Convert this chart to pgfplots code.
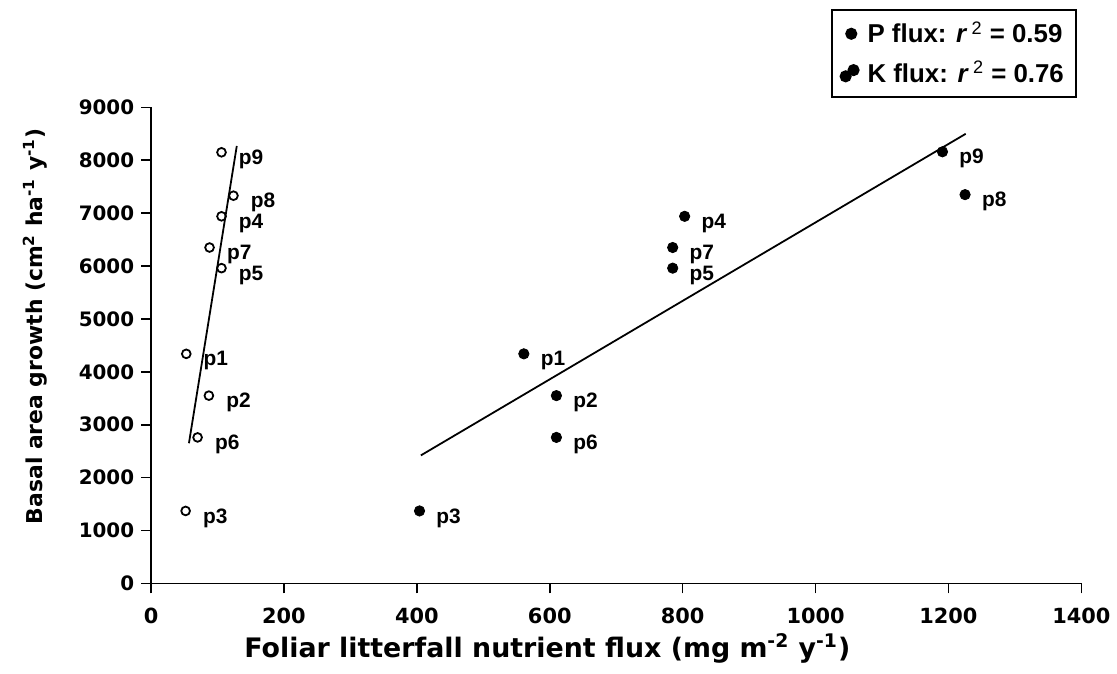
\documentclass[border=0pt]{standalone}
\usepackage{fontspec}
\setmainfont{Liberation Sans}
\newfontfamily\dejavu{DejaVu Sans}
\usepackage{graphicx}
\usepackage{pgfplots}
\pgfplotsset{compat=1.18}
\begin{document}
\begin{tikzpicture}
\begin{axis}[
  scale only axis, width=468pt, height=239.5pt,
  xmin=0, xmax=1400, ymin=0, ymax=9000,
  axis lines=left, axis line style={-, line width=0.9pt},
  xtick={0,200,...,1400}, ytick={0,1000,...,9000},
  tick align=outside, major tick length=5pt, tick style={line width=0.8pt, black},
  /pgf/number format/1000 sep={}, /pgf/number format/assume math mode=true,
  xticklabel={\dejavu\bfseries\pgfmathprintnumber{\tick}},
  yticklabel={\dejavu\bfseries\pgfmathprintnumber{\tick}},
  xticklabel style={font=\dejavu\bfseries\fontsize{10.5}{12}\selectfont, yshift=-4pt},
  yticklabel style={font=\dejavu\bfseries\fontsize{10}{12}\selectfont},
  xlabel={Foliar litterfall nutrient flux (mg m\textsuperscript{-2} y\textsuperscript{-1})},
  ylabel={Basal area growth (cm\textsuperscript{2} ha\textsuperscript{-1} y\textsuperscript{-1})},
  xlabel style={font=\dejavu\bfseries\fontsize{13.5}{15}\selectfont, at={(axis description cs:0.426,-0.136)}, anchor=center},
  ylabel style={font=\dejavu\bfseries\fontsize{11}{13}\selectfont, at={(axis description cs:-0.125,0.54)}, anchor=center},
  legend style={at={(axis description cs:0.995,1.207)}, anchor=north east, draw=black, line width=0.9pt,
    font=\bfseries\fontsize{13}{15}\selectfont, row sep=3.5pt, inner xsep=4pt, inner ysep=4pt,
    /tikz/every odd column/.append style={column sep=2pt}},
  legend cell align=left,
  legend image post style={xshift=-4pt},
  clip=false,
]
\addlegendimage{only marks, mark=*, mark size=2.6pt, black}
\addlegendentry{P flux: \textit{r}\,\textsuperscript{\mdseries 2} = 0.59}
\addlegendimage{legend image code/.code={\fill[black] (0.2cm,-0.06cm) circle (2.6pt); \fill[black] (0.34cm,0.05cm) circle (2.6pt);}}
\addlegendentry{K flux: \textit{r}\,\textsuperscript{\mdseries 2} = 0.76}

\addplot[forget plot, only marks, mark=o, mark size=2.2pt, mark options={line width=0.9pt}, black,
  nodes near coords, point meta=explicit symbolic,
  nodes near coords style={anchor=west, xshift=5pt, yshift=-3.5pt, font=\bfseries\fontsize{10.5}{12}\selectfont}]
  table[meta=l] {
x y l
106 8150 p9
124 7330 p8
106 6940 p4
88 6350 p7
106 5960 p5
53 4340 p1
87 3550 p2
70 2760 p6
52 1370 p3
};
\addplot[forget plot, only marks, mark=*, mark size=2.6pt, black,
  nodes near coords, point meta=explicit symbolic,
  nodes near coords style={anchor=west, xshift=5pt, yshift=-3.5pt, font=\bfseries\fontsize{10.5}{12}\selectfont}]
  table[meta=l] {
x y l
1191 8160 p9
1225 7350 p8
803 6940 p4
785 6350 p7
785 5960 p5
561 4340 p1
610 3550 p2
610 2760 p6
404 1370 p3
};
\addplot[forget plot, black, line width=0.9pt] coordinates {(57,2650) (129,8270)};
\addplot[forget plot, black, line width=0.9pt] coordinates {(406,2420) (1226,8500)};
\end{axis}
\path (current axis.south west) ++(-76pt,-45.5pt) rectangle ++(558.5pt,339pt);
\end{tikzpicture}
\end{document}
